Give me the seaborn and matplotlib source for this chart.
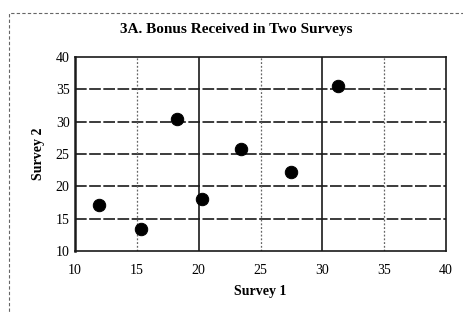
import matplotlib
matplotlib.use("Agg")
import matplotlib.pyplot as plt
import seaborn as sns
import pandas as pd
from matplotlib.patches import Rectangle

# ── Data ──────────────────────────────────────────────────────────────────────
survey1 = [11.9, 15.3, 18.2, 20.3, 23.4, 27.5, 31.3]
survey2 = [17.1, 13.4, 30.4, 18.0, 25.8, 22.2, 35.5]
ticks = [10, 15, 20, 25, 30, 35, 40]

df = pd.DataFrame({"Survey 1": survey1, "Survey 2": survey2})

sns.set_style("white")
plt.rcParams["font.family"] = ["Liberation Serif", "DejaVu Serif"]
plt.rcParams["text.color"] = "black"
plt.rcParams["axes.labelcolor"] = "black"
plt.rcParams["xtick.color"] = "black"
plt.rcParams["ytick.color"] = "black"

fig = plt.figure(figsize=(4.64, 3.13), dpi=100)
ax = fig.add_axes([0.162, 0.198, 0.799, 0.62])

sns.scatterplot(data=df, x="Survey 1", y="Survey 2", ax=ax,
                s=80, color="black", edgecolor="black", zorder=3)

ax.set_xlim(10, 40); ax.set_ylim(10, 40)
ax.set_xticks(ticks); ax.set_yticks(ticks)

# horizontal grid: dark dashed; vertical: solid at 20/30, dotted at 15/25/35
for y in ticks[1:-1]:
    ax.axhline(y, color="#1a1a1a", lw=1.2, ls=(0, (7, 1.5)), zorder=1)
for x in ticks[1:-1]:
    if x in (20, 30):
        ax.axvline(x, color="#1a1a1a", lw=1.2, zorder=1)
    else:
        ax.axvline(x, color="#666666", lw=0.9, ls=(0, (1.5, 1.5)), zorder=1)

for side in ax.spines.values():
    side.set_color("#1a1a1a"); side.set_linewidth(1.2)
ax.spines["left"].set_linewidth(1.8)

ax.tick_params(labelsize=10, length=0, pad=4)
ax.tick_params(axis="x", pad=9)
ax.set_xlabel("Survey 1", fontsize=10, fontweight="bold", labelpad=6)
ax.set_ylabel("Survey 2", fontsize=10, fontweight="bold", labelpad=8)
fig.text(0.51, 0.905, "3A. Bonus Received in Two Surveys",
         ha="center", va="center", fontsize=11, fontweight="bold")

# dashed outer frame
fig.patches.append(Rectangle((0.02, -0.05), 1.0, 1.01, transform=fig.transFigure,
                             fill=False, ec="#666666", lw=0.8, ls=(0, (3, 2))))

fig.savefig("out.png", dpi=100)
plt.close(fig)
